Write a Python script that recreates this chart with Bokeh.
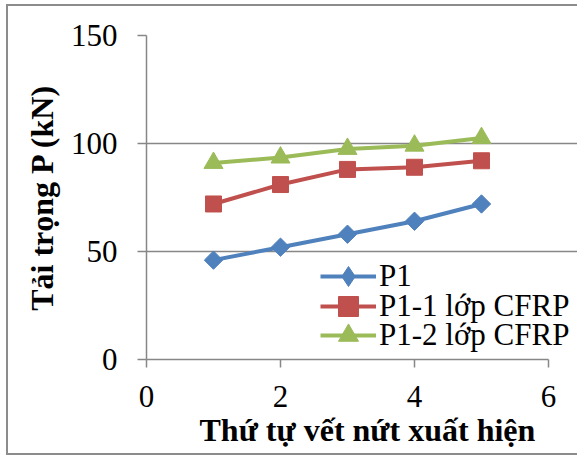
from bokeh.plotting import figure
from bokeh.models import Range1d, FixedTicker, Legend, LegendItem, Title
from bokeh.embed import file_html
from bokeh.resources import INLINE

# Crack order and load at each crack appearance (kN)
crack_order = [1, 2, 3, 4, 5]
p1 = [46, 52, 58, 64, 72]
p1_1cfrp = [72, 81, 88, 89, 92]
p1_2cfrp = [91, 93.5, 97.5, 99, 102.5]

series_names = ["P1", "P1-1 lớp CFRP", "P1-2 lớp CFRP"]
x_ticks = [0, 2, 4, 6]
y_ticks = [0, 50, 100, 150]

FONT = "Liberation Serif"
GRID = "#878787"

# the frame runs past x = 6 so the legend text has room; axis and grid stop at 6
p = figure(width=569, height=447, output_backend="svg", toolbar_location=None,
           x_range=Range1d(0, 6.433), y_range=Range1d(0, 150),
           min_border_left=138, min_border_right=0, min_border_top=29, min_border_bottom=94)
p.margin = (6, 0, 0, 8)
p.styles = {"outline": "2px solid #8c8c8c"}
p.outline_line_color = None
p.background_fill_color = "white"
p.border_fill_color = "white"

# grid: horizontal only
p.xgrid.grid_line_color = None
p.ygrid.grid_line_color = GRID
p.ygrid.grid_line_width = 1.5
p.ygrid.ticker = FixedTicker(ticks=y_ticks)
p.ygrid.bounds = (0, 6)

for ax in (p.xaxis[0], p.yaxis[0]):
    ax.axis_line_color = GRID
    ax.axis_line_width = 1.5
    ax.major_tick_line_color = GRID
    ax.major_tick_line_width = 1.5
    ax.major_tick_in = 0
    ax.minor_tick_line_color = None
    ax.major_label_text_font = FONT
    ax.major_label_text_font_size = "31px"
    ax.major_label_text_color = "black"

p.xaxis.bounds = (0, 6)
p.xaxis.ticker = FixedTicker(ticks=x_ticks)
p.yaxis.ticker = FixedTicker(ticks=y_ticks)
p.xaxis.major_tick_out = 8
p.yaxis.major_tick_out = 9
p.xaxis.major_label_standoff = 18
p.yaxis.major_label_standoff = 20

p.yaxis.axis_label = "Tải trọng P (kN)"
p.yaxis.axis_label_text_font = FONT
p.yaxis.axis_label_text_font_style = "bold"
p.yaxis.axis_label_text_color = "black"
p.yaxis.axis_label_text_font_size = "32px"
p.yaxis.axis_label_standoff = 8

# x-axis title, set toward the right end of the axis
p.add_layout(Title(text="Thứ tự vết nứt xuất hiện", align="left", offset=53,
                   text_font=FONT, text_font_style="bold", text_font_size="32px",
                   text_color="black", standoff=0), "below")

colors = ["#4F81BD", "#C0504D", "#9BBB59"]
data = [p1, p1_1cfrp, p1_2cfrp]
items = []
for i, (name, ys, c) in enumerate(zip(series_names, data, colors)):
    ln = p.line(crack_order, ys, line_color=c, line_width=4)
    if i == 0:
        # rotated square reads as an even diamond in the plot;
        # a hidden diamond renderer supplies the legend key
        p.scatter(crack_order, ys, marker="square", angle=0.785398, size=13,
                  fill_color=c, line_color=c)
        key = p.scatter(crack_order, ys, marker="diamond", size=20,
                        fill_color=c, line_color=c, visible=False)
        items.append(LegendItem(label=name, renderers=[ln, key]))
    elif i == 1:
        mk = p.scatter(crack_order, ys, marker="square", size=16, fill_color=c, line_color=c)
        items.append(LegendItem(label=name, renderers=[ln, mk]))
    else:
        mk = p.scatter(crack_order, ys, marker="triangle", size=19, fill_color=c, line_color=c)
        items.append(LegendItem(label=name, renderers=[ln, mk]))

# one legend box per entry so the rows sit close together
for item, y_off in zip(items, [58, 28, -1]):
    lg = Legend(items=[item], location=(174, y_off), orientation="vertical",
                label_text_font=FONT, label_text_font_size="31px",
                label_text_color="black",
                glyph_width=56, glyph_height=50, label_height=30,
                label_standoff=3, spacing=0, padding=0, margin=0,
                inactive_fill_alpha=0,
                border_line_color=None, background_fill_alpha=0)
    p.add_layout(lg, "center")

open("out.html", "w").write(file_html(p, INLINE))
